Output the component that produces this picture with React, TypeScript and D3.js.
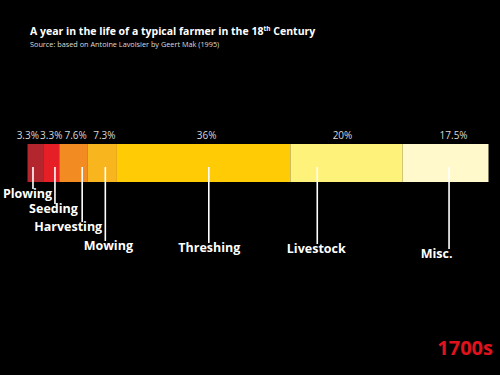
import React from "react";
import * as d3 from "d3";

const categories = ["Plowing", "Seeding", "Harvesting", "Mowing", "Threshing", "Livestock", "Misc."];
const shares = [3.4, 3.5, 6.2, 6.3, 37.6, 24.4, 18.6];
const shareLabels = ["3.3%", "3.3%", "7.6%", "7.3%", "36%", "20%", "17.5%"];

// layout / style (not data)
const colors = ["#b3262d", "#e61f27", "#f28c22", "#f9b51d", "#ffcb05", "#fff27a", "#fff9cc"];
const leaderFrac = [0.35, 0.73, 0.8, 0.6, 0.53, 0.24, 0.54];
const textShift = [-5.5, -1.5, -14, 3, 0.5, -1, -12.5];
const textBaseline = [198, 213, 231, 250, 252, 253, 258];
const pctShift = [-7.5, 0, 2, 2, 3, -4, 8];

export default function App() {
  const W = 500, H = 375;
  const x0 = 27.5, x1 = 488.5;
  const barTop = 144, barH = 38;
  const total = d3.sum(shares);
  const x = d3.scaleLinear().domain([0, total]).range([x0, x1]);
  const starts = d3.cumsum([0, ...shares]);

  return (
    <svg width={W} height={H} style={{ position: "absolute", left: 0, top: 0, background: "#000" }}>
      <rect x={0} y={0} width={W} height={H} fill="#000" />
      <text x={30} y={35} fill="#fff" fontFamily="'Open Sans', sans-serif" fontWeight={700} fontSize={10.5}>
        A year in the life of a typical farmer in the 18
        <tspan fontSize={6.5} dy={-4}>th</tspan>
        <tspan dy={4}> Century</tspan>
      </text>
      <text x={30} y={47} fill="#ddd" fontFamily="'Open Sans', sans-serif" fontSize={7.3}>
        Source: based on Antoine Lavoisier by Geert Mak (1995)
      </text>
      {shares.map((v, i) => {
        const xa = x(starts[i]);
        const xb = x(starts[i] + v);
        return <rect key={"r" + i} x={xa} y={barTop} width={xb - xa} height={barH} fill={colors[i]} />;
      })}
      {shares.map((v, i) => {
        const cx = (x(starts[i]) + x(starts[i] + v)) / 2 + pctShift[i];
        return (
          <text key={"p" + i} x={cx} y={139} textAnchor="middle" fill="#d8d8d8"
            fontFamily="'Open Sans', sans-serif" fontSize={10}>
            {shareLabels[i]}
          </text>
        );
      })}
      {categories.map((c, i) => {
        const xa = x(starts[i]);
        const xb = x(starts[i] + shares[i]);
        const lx = xa + (xb - xa) * leaderFrac[i];
        const ty = textBaseline[i];
        return (
          <g key={"l" + i}>
            <line x1={lx} x2={lx} y1={167} y2={ty - 9} stroke="#fff" strokeWidth={1.6} />
            <text x={lx + textShift[i]} y={ty} textAnchor="middle" fill="#fff"
              fontFamily="'Open Sans', sans-serif" fontWeight={700} fontSize={12.5}>
              {c}
            </text>
          </g>
        );
      })}
      <text x={493} y={355} textAnchor="end" fill="#e0121c" fontFamily="'Open Sans', sans-serif"
        fontWeight={700} fontSize={20}>
        1700s
      </text>
    </svg>
  );
}
